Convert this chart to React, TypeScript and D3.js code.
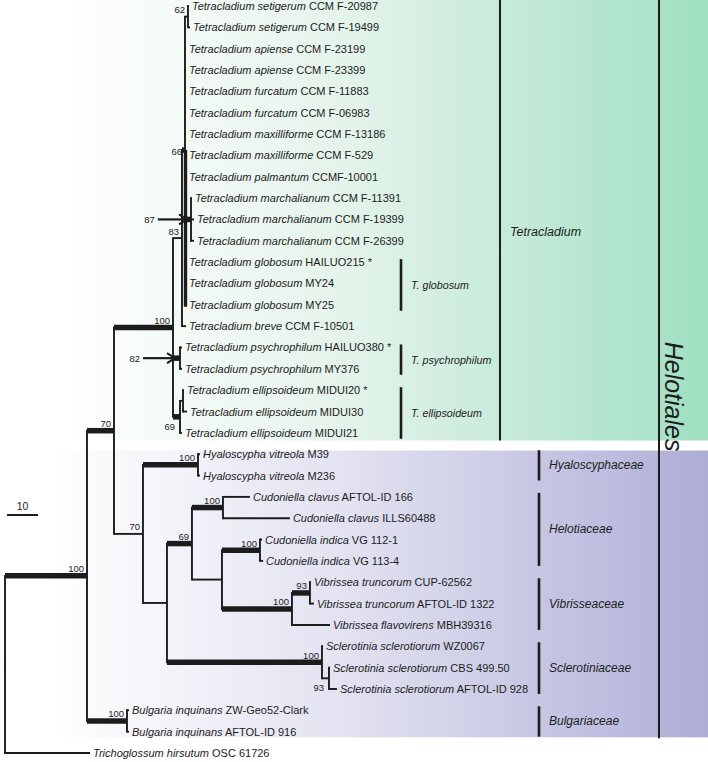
import React, { useMemo } from "react";
import * as d3 from "d3";

// ---------- DATA ----------
const tipTaxa = [
  "Tetracladium setigerum", "Tetracladium setigerum", "Tetracladium apiense", "Tetracladium apiense",
  "Tetracladium furcatum", "Tetracladium furcatum", "Tetracladium maxilliforme", "Tetracladium maxilliforme",
  "Tetracladium palmantum", "Tetracladium marchalianum", "Tetracladium marchalianum", "Tetracladium marchalianum",
  "Tetracladium globosum", "Tetracladium globosum", "Tetracladium globosum", "Tetracladium breve",
  "Tetracladium psychrophilum", "Tetracladium psychrophilum", "Tetracladium ellipsoideum", "Tetracladium ellipsoideum",
  "Tetracladium ellipsoideum", "Hyaloscypha vitreola", "Hyaloscypha vitreola", "Cudoniella clavus",
  "Cudoniella clavus", "Cudoniella indica", "Cudoniella indica", "Vibrissea truncorum",
  "Vibrissea truncorum", "Vibrissea flavovirens", "Sclerotinia sclerotiorum", "Sclerotinia sclerotiorum",
  "Sclerotinia sclerotiorum", "Bulgaria inquinans", "Bulgaria inquinans", "Trichoglossum hirsutum",
];
const tipStrains = [
  "CCM F-20987", "CCM F-19499", "CCM F-23199", "CCM F-23399", "CCM F-11883", "CCM F-06983",
  "CCM F-13186", "CCM F-529", "CCMF-10001", "CCM F-11391", "CCM F-19399", "CCM F-26399",
  "HAILUO215 *", "MY24", "MY25", "CCM F-10501", "HAILUO380 *", "MY376", "MIDUI20 *", "MIDUI30",
  "MIDUI21", "M39", "M236", "AFTOL-ID 166", "ILLS60488", "VG 112-1", "VG 113-4", "CUP-62562",
  "AFTOL-ID 1322", "MBH39316", "WZ0067", "CBS 499.50", "AFTOL-ID 928", "ZW-Geo52-Clark",
  "AFTOL-ID 916", "OSC 61726",
];

// Topology with branch lengths (tips t0..t35 refer to the arrays above)
const newick =
  "(((((((((t0:0.32,t1:0.65)N62:0.97,t2:0.32,t3:0.32,t4:0.32,t5:0.32,t6:0.32,t7:0.32,t8:0.32," +
  "(t9:0.32,t10:0.97,t11:0.97)N87:1.94,(t12:0.32,t13:0.32,t14:0.32)NG:0)N66:0.97,t15:1.3)N83:2.9," +
  "(t16:0.65,t17:0.65)N82:2.26,((t18:0.32,t19:1.3)NE:0.97,t20:0.65)N69:2.26)T:19.03," +
  "((t21:0.65,t22:0.65)HY:17.74,(((t23:8.71,t24:21.6)E:10,((t25:0.65,t26:1.0)G:12.26," +
  "((t27:0.32,t28:1.3)IT:5.8,t29:12.26)H:22.58)F:9.68)C:8.06,(t30:0.32,(t31:0.32,t32:2.58)K:2.26)J:50)D:7.74)B:9.35)I:8.71," +
  "(t33:0.65,t34:0.65)BU:12.9)A:26.45,t35:27.42)R;";

const thickBranches = ["A", "I", "BU", "T", "HY", "C", "E", "G", "H", "IT", "J", "N66", "N87", "NG", "N82", "N69"];
const heavyStems = ["NG"];

const supportIds = ["A", "I", "BU", "T", "B", "HY", "C", "E", "G", "H", "IT", "J", "K", "N83", "N66", "N62", "N69"];
const supportValues = ["100", "70", "100", "100", "70", "100", "69", "100", "100", "100", "93", "100", "93", "83", "66", "62", "69"];
const supportPlace = ["a", "a", "a", "a", "a", "a", "a", "a", "a", "a", "a", "a", "b", "a", "l", "a", "b"];

const arrowIds = ["N87", "N82"];
const arrowValues = ["87", "82"];
const arrowLengths = [9.4, 10.3];

const subcladeNames = ["T. globosum", "T. psychrophilum", "T. ellipsoideum"];
const subcladeFirst = [12, 16, 18];
const subcladeLast = [14, 17, 20];

const familyNames = ["Hyaloscyphaceae", "Helotiaceae", "Vibrisseaceae", "Sclerotiniaceae", "Bulgariaceae"];
const familyFirst = [21, 23, 27, 30, 33];
const familyLast = [22, 26, 29, 32, 34];

const scaleBarValue = 10;

// ---------- HELPERS ----------
type NNode = { name: string; length: number; children: NNode[] };
function parseNewick(s: string): NNode {
  let i = 0;
  function parse(): NNode {
    const node: NNode = { name: "", length: 0, children: [] };
    if (s[i] === "(") {
      i++;
      node.children.push(parse());
      while (s[i] === ",") {
        i++;
        node.children.push(parse());
      }
      i++;
    }
    let name = "";
    while (i < s.length && !":,();".includes(s[i])) name += s[i++];
    node.name = name;
    if (s[i] === ":") {
      i++;
      let num = "";
      while (i < s.length && !",();".includes(s[i])) num += s[i++];
      node.length = parseFloat(num);
    }
    return node;
  }
  return parse();
}

const FONT = "'Liberation Sans', Arial, Helvetica, sans-serif";
const INK = "#1c1c1c";
const THIN = 1.9;
const THICK = 5.5;

export default function App() {
  const W = 708;
  const H = 762;

  const layout = useMemo(() => {
    const root = d3.hierarchy(parseNewick(newick), (d) => (d.children.length ? d.children : null));
    const xScale = d3.scaleLinear().domain([0, 10]).range([5, 36]);
    const yScale = d3.scaleLinear().domain([0, 35]).range([6, 753]);
    const depth = new Map<any, number>();
    root.eachBefore((n: any) => {
      depth.set(n, (n.parent ? depth.get(n.parent)! : 0) + (n.parent ? n.data.length : 0));
    });
    const pos = new Map<any, { x: number; y: number }>();
    root.eachAfter((n: any) => {
      const x = xScale(depth.get(n)!);
      let y: number;
      if (!n.children) {
        y = yScale(parseInt(n.data.name.slice(1), 10));
      } else {
        const c = n.children;
        y = (pos.get(c[0])!.y + pos.get(c[c.length - 1])!.y) / 2;
      }
      pos.set(n, { x, y });
    });
    const byName = new Map<string, any>();
    root.each((n: any) => byName.set(n.data.name, n));
    return { root, xScale, yScale, pos, byName };
  }, []);

  const { root, xScale, yScale, pos, byName } = layout;
  const nodes: any[] = root.descendants();

  const verticals: React.ReactNode[] = [];
  const horizontals: React.ReactNode[] = [];
  nodes.forEach((n, k) => {
    const p = pos.get(n)!;
    if (n.children) {
      const ys = n.children.map((c: any) => pos.get(c)!.y);
      verticals.push(
        <line key={"v" + k} x1={p.x} x2={p.x} y1={Math.min(...ys) - THIN / 2} y2={Math.max(...ys) + THIN / 2}
          stroke={INK} strokeWidth={THIN} />
      );
    }
    if (n.parent) {
      const pp = pos.get(n.parent)!;
      const thick = thickBranches.includes(n.data.name);
      horizontals.push(
        <line key={"h" + k} x1={pp.x} x2={Math.max(p.x, pp.x + 1)} y1={p.y} y2={p.y}
          stroke={INK} strokeWidth={thick ? THICK : THIN} />
      );
      if (heavyStems.includes(n.data.name)) {
        const last = n.children ? pos.get(n.children[n.children.length - 1])!.y : p.y;
        verticals.push(
          <line key={"hs" + k} x1={pp.x + 0.5} x2={pp.x + 0.5} y1={pp.y} y2={last + 2}
            stroke={INK} strokeWidth={3.4} />
        );
      }
    }
  });

  const leaves: any[] = root.leaves();

  const bgGreenTop = 0;
  const bgGreenBottom = (yScale(20) + yScale(21)) / 2 - 3;
  const bgPurpleTop = bgGreenBottom + 10;
  const bgPurpleBottom = (yScale(34) + yScale(35)) / 2 - 5;

  return (
    <svg width={W} height={H} style={{ position: "absolute", left: 0, top: 0, background: "#fff" }}
      fontFamily={FONT}>
      <defs>
        <linearGradient id="gGreen" gradientUnits="userSpaceOnUse" x1={65} x2={708} y1={0} y2={0}>
          <stop offset="0" stopColor="#ffffff" />
          <stop offset="0.45" stopColor="#e3f3ea" />
          <stop offset="0.9" stopColor="#ade3ca" />
          <stop offset="1" stopColor="#9fdfc0" />
        </linearGradient>
        <linearGradient id="gPurple" gradientUnits="userSpaceOnUse" x1={50} x2={708} y1={0} y2={0}>
          <stop offset="0" stopColor="#ffffff" />
          <stop offset="0.45" stopColor="#e2e2f1" />
          <stop offset="0.9" stopColor="#b8b8dc" />
          <stop offset="1" stopColor="#adadd6" />
        </linearGradient>
      </defs>

      <rect x={65} y={bgGreenTop} width={W - 65} height={bgGreenBottom - bgGreenTop} fill="url(#gGreen)" />
      <rect x={50} y={bgPurpleTop} width={W - 50} height={bgPurpleBottom - bgPurpleTop} fill="url(#gPurple)" />

      {/* big vertical separators */}
      <line x1={500} x2={500} y1={bgGreenTop} y2={bgGreenBottom} stroke={INK} strokeWidth={2} />
      <line x1={659} x2={659} y1={bgGreenTop} y2={bgPurpleBottom + 1} stroke={INK} strokeWidth={2} />

      {/* tree */}
      <g>{verticals}</g>
      <g>{horizontals}</g>

      {/* tip labels */}
      {leaves.map((n, k) => {
        const i = parseInt(n.data.name.slice(1), 10);
        const p = pos.get(n)!;
        return (
          <text key={"t" + k} x={p.x + 3} y={p.y + 4} fontSize={11} fill={INK}>
            <tspan fontStyle="italic">{tipTaxa[i]}</tspan>
            <tspan>{" " + tipStrains[i]}</tspan>
          </text>
        );
      })}

      {/* support values */}
      {supportIds.map((id, k) => {
        const n = byName.get(id);
        const p = pos.get(n)!;
        const place = supportPlace[k];
        const x = place === "b" ? p.x - 5 : p.x - 3;
        const y = place === "b" ? p.y + 13 : place === "l" ? p.y + 5 : p.y - 3.5;
        return (
          <text key={"s" + k} x={x} y={y} fontSize={9.5} textAnchor="end" fill={INK}>
            {supportValues[k]}
          </text>
        );
      })}

      {/* arrowed support values */}
      {arrowIds.map((id, k) => {
        const n = byName.get(id);
        const pp = pos.get(n.parent)!;
        const p = pos.get(n)!;
        const tipX = pp.x + 2;
        const startX = tipX - xScale(arrowLengths[k]) + xScale(0);
        return (
          <g key={"a" + k}>
            <line x1={startX} x2={tipX - 2} y1={p.y} y2={p.y} stroke={INK} strokeWidth={2.2} />
            <polyline points={`${tipX - 8},${p.y - 5} ${tipX},${p.y} ${tipX - 8},${p.y + 5}`}
              fill="none" stroke={INK} strokeWidth={2} />
            <text x={startX - 3} y={p.y + 4} fontSize={9.5} textAnchor="end" fill={INK}>
              {arrowValues[k]}
            </text>
          </g>
        );
      })}

      {/* subclade bars */}
      {subcladeNames.map((name, k) => {
        const y1 = yScale(subcladeFirst[k]) - 3;
        const y2 = yScale(subcladeLast[k]) + 6;
        return (
          <g key={"sc" + k}>
            <line x1={401} x2={401} y1={y1} y2={y2} stroke={INK} strokeWidth={2.6} />
            <text x={411} y={(y1 + y2) / 2 + 4} fontSize={10.7} fontStyle="italic" fill={INK}>{name}</text>
          </g>
        );
      })}

      {/* family bars */}
      {familyNames.map((name, k) => {
        const y1 = yScale(familyFirst[k]) - 4;
        const y2 = yScale(familyLast[k]) + 5;
        return (
          <g key={"f" + k}>
            <line x1={539} x2={539} y1={y1} y2={y2} stroke={INK} strokeWidth={2.6} />
            <text x={549} y={(y1 + y2) / 2 + 4} fontSize={12} fontStyle="italic" fill={INK}>{name}</text>
          </g>
        );
      })}

      <text x={510} y={yScale(10.6) + 4} fontSize={12.5} fontStyle="italic" fill={INK}>Tetracladium</text>
      <text transform={`translate(665,${yScale(18.3)}) rotate(90)`} fontSize={25} fontStyle="italic"
        textAnchor="middle" fill={INK}>Helotiales</text>

      {/* scale bar */}
      <line x1={xScale(0) + 2} x2={xScale(scaleBarValue) + 2} y1={515} y2={515} stroke={INK} strokeWidth={2} />
      <text x={(xScale(0) + xScale(scaleBarValue)) / 2 + 2} y={510} fontSize={10.5} textAnchor="middle" fill={INK}>
        {String(scaleBarValue)}
      </text>
    </svg>
  );
}
